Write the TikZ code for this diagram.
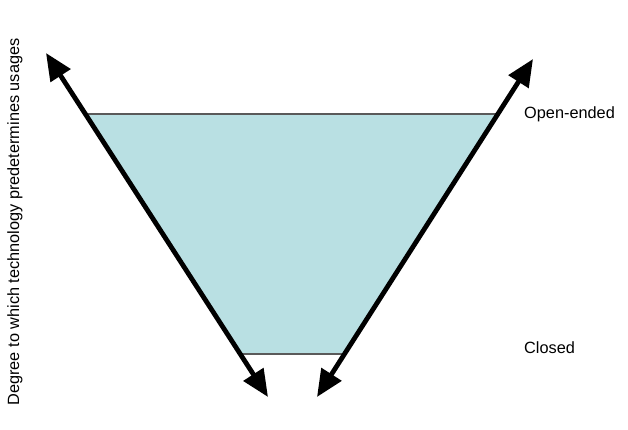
\documentclass[tikz,border=0pt]{standalone}
\usepackage{fontspec}
\setmainfont{Liberation Sans}
\usetikzlibrary{arrows.meta,positioning}
\definecolor{funnel}{HTML}{B9E0E3}
\definecolor{edge}{HTML}{5A5A5A}

\begin{document}
\begin{tikzpicture}[x=1pt,y=-1pt,
  axis/.style={line width=4.8pt, {Triangle[length=27pt,width=23pt]}-{Triangle[length=27pt,width=23pt]}},
  rim/.style={edge, line width=1.1pt},
  lbl/.style={font=\fontsize{16.3}{19}\selectfont, inner sep=0pt}
]
  \useasboundingbox (0,0) rectangle (628,429);
  % funnel corners
  \coordinate (tl) at (86,114);
  \coordinate (tr) at (498,114);
  \coordinate (br) at (345,354);
  \coordinate (bl) at (240,354);
  % arrow ends
  \coordinate (la) at (46,53);
  \coordinate (lb) at (268,397);
  \coordinate (ra) at (533,59);
  \coordinate (rb) at (317,397);
  \fill[funnel] (tl) -- (tr) -- (br) -- (bl) -- cycle;
  \draw[rim] (tl) -- (tr);
  \draw[rim] (bl) -- (br);
  \draw[axis] (la) -- (lb);
  \draw[axis] (ra) -- (rb);
  \node[lbl, anchor=west] (open) at (524,114) {Open-ended};
  \node[lbl, anchor=west] (closed) at (524,348) {Closed};
  \node[lbl, rotate=90] (degree) at (15,222) {Degree to which technology predetermines usages};
\end{tikzpicture}
\end{document}
